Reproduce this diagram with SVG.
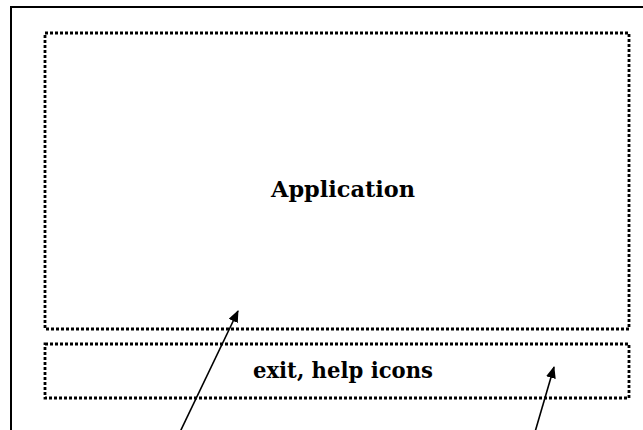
<svg xmlns="http://www.w3.org/2000/svg" width="643" height="430" viewBox="0 0 643 430">
<style>
.frame{fill:none;stroke:#000;stroke-width:2}
.dot{fill:none;stroke:#000;stroke-width:2.8;stroke-dasharray:3 2}
.lbl{font-family:"DejaVu Serif","Liberation Serif",serif;font-weight:bold;font-size:22px;fill:#000;text-anchor:middle}
.conn{stroke:#000;stroke-width:1.6;fill:none}
</style>
<defs>
<marker id="ah" markerWidth="12" markerHeight="10" refX="11" refY="5" orient="auto" markerUnits="userSpaceOnUse" viewBox="0 0 12 10">
<path d="M0,0 L12,5 L0,10 z" fill="#000"/>
</marker>
</defs>
<rect width="643" height="430" fill="#fff"/>
<g id="frame">
<path class="frame" d="M11,440 L11,7 L650,7"/>
</g>
<g id="application">
<rect class="dot" x="45" y="33" width="584" height="296"/>
<text class="lbl" x="343" y="197" textLength="144" lengthAdjust="spacingAndGlyphs">Application</text>
</g>
<g id="icons">
<rect class="dot" x="45" y="344" width="584" height="54"/>
<text class="lbl" x="343" y="378" textLength="180" lengthAdjust="spacingAndGlyphs">exit, help icons</text>
</g>
<g id="connectors">
<line class="conn" x1="180" y1="432" x2="238" y2="311" marker-end="url(#ah)"/>
<line class="conn" x1="535" y1="432" x2="554" y2="367" marker-end="url(#ah)"/>
</g>
</svg>
